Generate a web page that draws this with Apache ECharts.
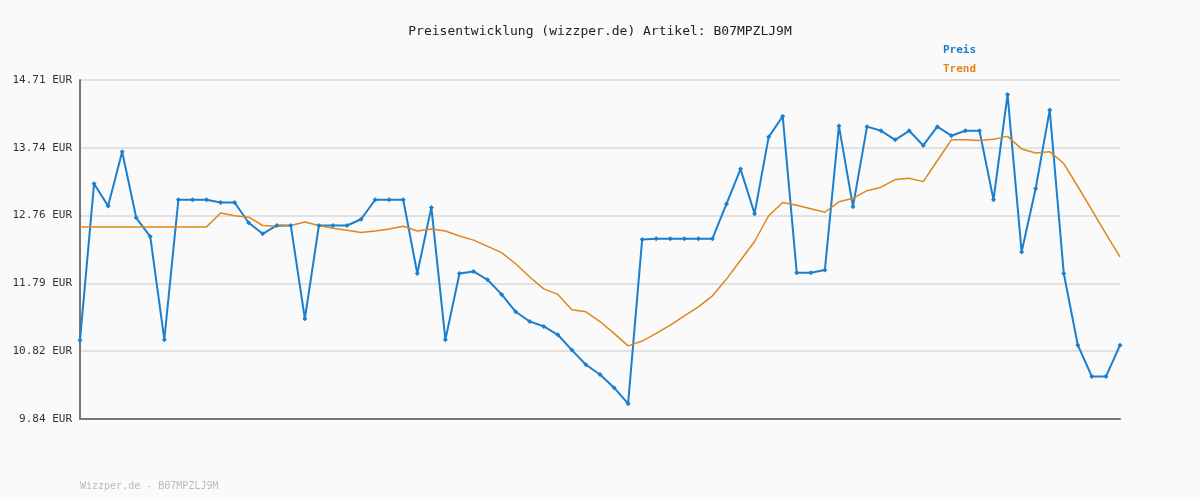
<!DOCTYPE html>
<html>
<head>
<meta charset="utf-8">
<script src="https://cdn.jsdelivr.net/npm/echarts@6/dist/echarts.min.js"></script>
<style>html,body{margin:0;background:#fafafa}#chart{width:1200px;height:500px}</style>
</head>
<body>
<div id="chart"></div>
<script>
// Preisverlauf, Werte
const preis = [10.97, 13.22, 12.90, 13.68, 12.73, 12.46, 10.98, 12.99, 12.99, 12.99,
  12.95, 12.95, 12.66, 12.50, 12.62, 12.62, 11.28, 12.62, 12.62, 12.62,
  12.71, 12.99, 12.99, 12.99, 11.93, 12.88, 10.98, 11.93, 11.96, 11.84,
  11.63, 11.38, 11.24, 11.17, 11.05, 10.83, 10.62, 10.48, 10.29, 10.06,
  12.42, 12.43, 12.43, 12.43, 12.43, 12.43, 12.93, 13.43, 12.79, 13.89,
  14.19, 11.94, 11.94, 11.98, 14.05, 12.89, 14.04, 13.98, 13.85, 13.98,
  13.77, 14.04, 13.91, 13.98, 13.98, 12.99, 14.50, 12.24, 13.15, 14.28,
  11.93, 10.90, 10.45, 10.45, 10.90]
const trend = [12.60, 12.60, 12.60, 12.60, 12.60, 12.60, 12.60, 12.60, 12.60, 12.60,
  12.80, 12.76, 12.74, 12.62, 12.61, 12.62, 12.67, 12.62, 12.58, 12.55,
  12.52, 12.54, 12.57, 12.61, 12.54, 12.57, 12.54, 12.47, 12.41, 12.32,
  12.23, 12.07, 11.88, 11.71, 11.63, 11.41, 11.38, 11.24, 11.07, 10.89,
  10.96, 11.07, 11.19, 11.32, 11.45, 11.61, 11.85, 12.12, 12.39, 12.76,
  12.95, 12.91, 12.86, 12.81, 12.96, 13.01, 13.12, 13.17, 13.28, 13.30,
  13.25, 13.55, 13.85, 13.85, 13.84, 13.86, 13.90, 13.72, 13.66, 13.68,
  13.51, 13.18, 12.84, 12.50, 12.17]
const yTickLabels = ['9.84', '10.82', '11.79', '12.76', '13.74', '14.71']
const categories = preis.map((_, i) => i)

const yMin = 9.84, yMax = 14.71
const yStep = (yMax - yMin) / 5
const mono = 'DejaVu Sans Mono'

const chart = echarts.init(document.getElementById('chart'))
chart.setOption({
  backgroundColor: '#fafafa',
  animation: false,
  title: {
    text: 'Preisentwicklung (wizzper.de) Artikel: B07MPZLJ9M',
    left: 'center', top: 20,
    textStyle: { fontFamily: mono, fontSize: 13, fontWeight: 'normal', color: '#222' }
  },
  legend: {
    orient: 'vertical', left: 933, top: 38, itemGap: 7,
    icon: 'none', itemWidth: 0,
    textStyle: { fontFamily: mono, fontSize: 11, fontWeight: 'bold' },
    data: [
      { name: 'Preis', textStyle: { color: '#1a7fcf' } },
      { name: 'Trend', textStyle: { color: '#e0861a' } }
    ]
  },
  graphic: [{
    type: 'text', left: 80, top: 481,
    style: { text: 'Wizzper.de - B07MPZLJ9M', fill: '#bbb', font: '10px ' + mono }
  }],
  grid: { left: 80, right: 80, top: 80, bottom: 81 },
  xAxis: {
    type: 'category', data: categories, boundaryGap: false,
    axisLine: { lineStyle: { color: '#777', width: 2 } },
    axisTick: { show: false }, axisLabel: { show: false }
  },
  yAxis: {
    type: 'value', min: yMin, max: yMax, interval: yStep,
    axisLine: { show: true, lineStyle: { color: '#777', width: 2 } },
    axisTick: { show: false },
    splitLine: { lineStyle: { color: '#e2e2e2', width: 2 } },
    axisLabel: {
      fontFamily: mono, fontSize: 11, color: '#333', margin: 8,
      formatter: v => yTickLabels[Math.round((v - yMin) / yStep)] + ' EUR'
    }
  },
  series: [
    {
      name: 'Preis', type: 'line', data: preis,
      symbol: 'diamond', symbolSize: 5, showAllSymbol: true,
      itemStyle: { color: '#1a7fcf' },
      lineStyle: { color: '#1a7fcf', width: 2 }
    },
    {
      name: 'Trend', type: 'line', data: trend, showSymbol: false,
      itemStyle: { color: '#e0861a' },
      lineStyle: { color: '#e0861a', width: 1.5 }
    }
  ]
})
</script>
</body>
</html>
